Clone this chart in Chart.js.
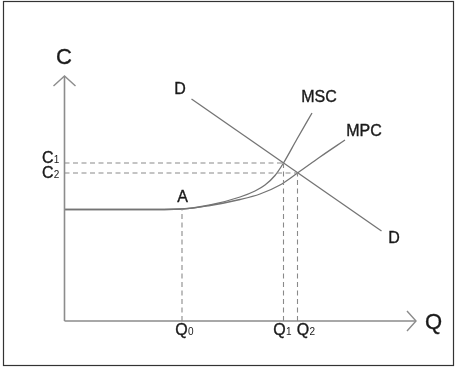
<!DOCTYPE html>
<html>
<head>
<meta charset="utf-8">
<script src="https://cdn.jsdelivr.net/npm/chart.js@4/dist/chart.umd.min.js"></script>
<style>
  html, body { margin: 0; padding: 0; background: #fff; }
  #wrap { width: 455px; height: 367px; position: relative; }
</style>
</head>
<body>
<div id="wrap"><canvas id="c" width="455" height="367"></canvas></div>
<script>
// ---- data (arbitrary units; origin at the axes' corner) ----
const axisMaxQ = 351.5;
const axisMaxC = 245;
const baseCost = 112;
const Q0 = 117.5, Q1 = 219, Q2 = 233;
const C1 = 158, C2 = 148;

const mpcQ = [0, 75, 117.5, 145.5, 175.5, 195.5, 215.5, 233, 255.5, 280.5];
const mpcC = [111.5, 111.5, 112, 115.5, 121.5, 127, 136, 148, 164, 181];

const mscQ = [0, 75, 117.5, 145.5, 175.5, 190.5, 200.5, 210.5, 219, 232.5, 247.5];
const mscC = [111.5, 111.5, 112, 116, 124, 130, 136, 145.5, 158, 182, 208];

const demandQ = [127, 317];
const demandC = [222, 90];

// ---- labels (text, anchored in data units) ----
const labels = [
  { t: 'C',   q: -0.5,  c: 257, size: 22, align: 'center' },
  { t: 'Q',   q: 360.5, c: -8,  size: 22, align: 'left' },
  { t: 'D',   q: 115.5, c: 227, size: 16, align: 'center' },
  { t: 'MSC', q: 254.5, c: 219, size: 16, align: 'center' },
  { t: 'MPC', q: 299.5, c: 185, size: 16, align: 'center' },
  { t: 'D',   q: 329.5, c: 78,  size: 16, align: 'center' },
  { t: 'A',   q: 118,   c: 119, size: 16, align: 'center' },
  { t: 'C', sub: '1', q: -22.5, c: 158, size: 16, align: 'left' },
  { t: 'C', sub: '2', q: -22.5, c: 143, size: 16, align: 'left' },
  { t: 'Q', sub: '0', q: 110.8, c: -14, size: 16, align: 'left' },
  { t: 'Q', sub: '1', q: 208.8, c: -14, size: 16, align: 'left' },
  { t: 'Q', sub: '2', q: 232.2, c: -14, size: 16, align: 'left' }
];

const pts = (xs, ys) => xs.map((x, i) => ({ x: x, y: ys[i] }));

const curveColor = '#747474';
const dashColor = '#8a8a8a';
const axisColor = '#8c8c8c';

const solid = (data, extra) => Object.assign({
  data: data, showLine: true, pointRadius: 0, borderColor: curveColor,
  borderWidth: 1.3, fill: false, clip: false
}, extra || {});
const dashed = (data) => ({
  data: data, showLine: true, pointRadius: 0, borderColor: dashColor,
  borderWidth: 1.1, borderDash: [5, 3.5], fill: false, clip: false
});

const framePlugin = {
  id: 'frame',
  beforeDraw(chart) {
    const ctx = chart.ctx;
    ctx.save();
    ctx.fillStyle = '#fff';
    ctx.fillRect(0, 0, chart.width, chart.height);
    ctx.strokeStyle = '#333';
    ctx.lineWidth = 1.2;
    ctx.strokeRect(3.5, 1.5, 450, 364);
    ctx.restore();
  }
};

const axesPlugin = {
  id: 'axesArrows',
  afterDatasetsDraw(chart) {
    const ctx = chart.ctx;
    const xs = chart.scales.x, ys = chart.scales.y;
    const x0 = xs.getPixelForValue(0), y0 = ys.getPixelForValue(0);
    const xe = xs.getPixelForValue(axisMaxQ), ye = ys.getPixelForValue(axisMaxC);
    ctx.save();
    ctx.strokeStyle = axisColor;
    ctx.lineWidth = 1.6;
    ctx.lineCap = 'butt';
    ctx.beginPath();
    ctx.moveTo(x0, y0); ctx.lineTo(x0, ye);
    ctx.moveTo(x0, y0); ctx.lineTo(xe, y0);
    ctx.stroke();
    ctx.lineWidth = 1.4;
    ctx.beginPath();
    ctx.moveTo(x0 - 11, ye + 10); ctx.lineTo(x0, ye); ctx.lineTo(x0 + 11, ye + 10);
    ctx.moveTo(xe - 9, y0 - 10); ctx.lineTo(xe, y0); ctx.lineTo(xe - 9, y0 + 10);
    ctx.stroke();
    ctx.restore();
  }
};

const labelPlugin = {
  id: 'labels',
  afterDraw(chart) {
    const ctx = chart.ctx;
    const xs = chart.scales.x, ys = chart.scales.y;
    ctx.save();
    ctx.fillStyle = '#1a1a1a';
    ctx.strokeStyle = '#1a1a1a';
    ctx.lineWidth = 0.35;
    ctx.textBaseline = 'alphabetic';
    labels.forEach(l => {
      const px = xs.getPixelForValue(l.q), py = ys.getPixelForValue(l.c);
      ctx.font = l.size + 'px "Liberation Sans", Arial, sans-serif';
      ctx.textAlign = l.align;
      ctx.fillText(l.t, px, py);
      ctx.strokeText(l.t, px, py);
      if (l.sub) {
        const w = ctx.measureText(l.t).width;
        ctx.font = '10px "Liberation Sans", Arial, sans-serif';
        ctx.textAlign = 'left';
        ctx.fillText(l.sub, px + w + 0.3, py);
      }
    });
    ctx.restore();
  }
};

new Chart(document.getElementById('c'), {
  type: 'scatter',
  data: {
    datasets: [
      dashed([{ x: 0, y: C1 }, { x: Q1, y: C1 }]),
      dashed([{ x: 0, y: C2 }, { x: Q2, y: C2 }]),
      dashed([{ x: Q0, y: 0 }, { x: Q0, y: baseCost }]),
      dashed([{ x: Q1, y: 0 }, { x: Q1, y: C1 }]),
      dashed([{ x: Q2, y: 0 }, { x: Q2, y: C2 }]),
      solid(pts(mpcQ, mpcC), { cubicInterpolationMode: 'monotone' }),
      solid(pts(mscQ, mscC), { cubicInterpolationMode: 'monotone' }),
      solid(pts(demandQ, demandC))
    ]
  },
  options: {
    responsive: false,
    animation: false,
    events: [],
    layout: { padding: { left: 64.5, right: 39, top: 76, bottom: 46 } },
    plugins: { legend: { display: false }, tooltip: { enabled: false } },
    scales: {
      x: { type: 'linear', min: 0, max: axisMaxQ, display: false },
      y: { type: 'linear', min: 0, max: axisMaxC, display: false }
    }
  },
  plugins: [framePlugin, axesPlugin, labelPlugin]
});
</script>
</body>
</html>
